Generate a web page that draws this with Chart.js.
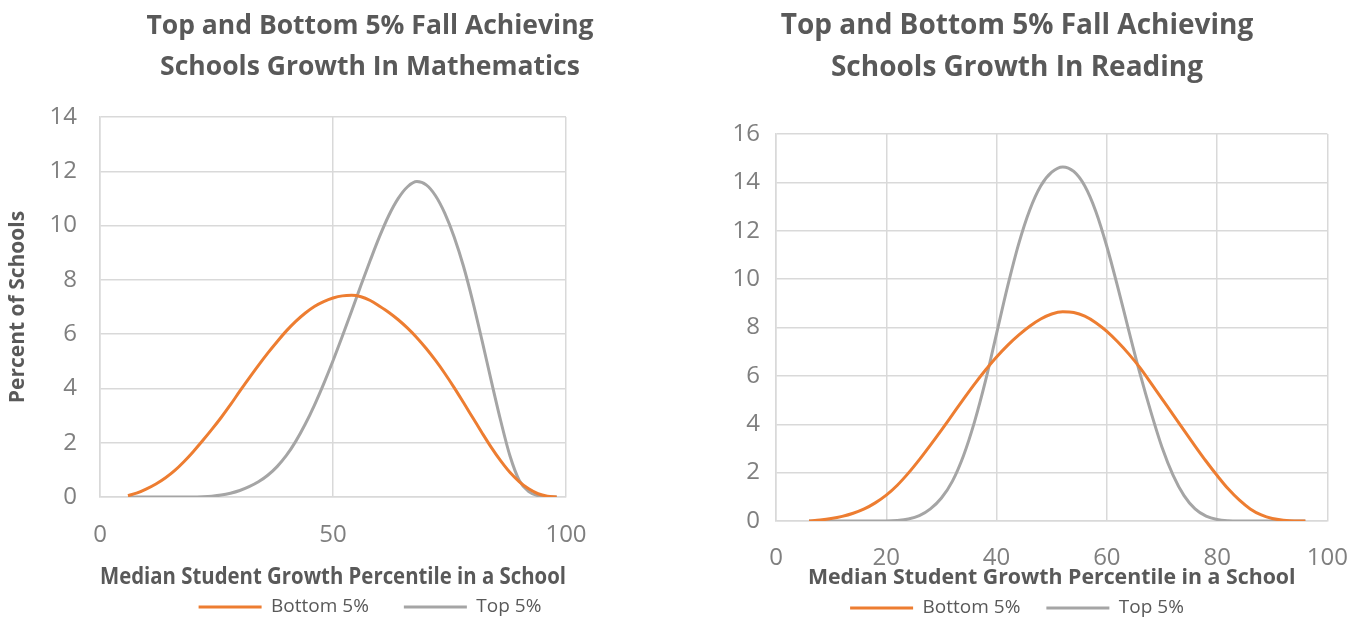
<!DOCTYPE html>
<html>
<head>
<meta charset="utf-8">
<script src="https://cdn.jsdelivr.net/npm/chart.js@4/dist/chart.umd.min.js"></script>
<style>
  html, body { margin: 0; padding: 0; background: #ffffff; width: 1366px; height: 623px; overflow: hidden; }
  #wrapL { position: absolute; left: 0; top: 0; width: 740px; height: 623px; }
  #wrapR { position: absolute; left: 683px; top: 0; width: 688px; height: 623px; }
</style>
</head>
<body>
<div id="wrapL"><canvas id="cL" width="740" height="623"></canvas></div>
<div id="wrapR"><canvas id="cR" width="688" height="623"></canvas></div>
<script>
// ---------- Data ----------
const seriesNames = ['Bottom 5%', 'Top 5%'];
const mathTitle = ['Top and Bottom 5% Fall Achieving', 'Schools Growth In Mathematics'];
const readTitle = ['Top and Bottom 5% Fall Achieving', 'Schools Growth In Reading'];
const xAxisTitle = 'Median Student Growth Percentile in a School';
const yAxisTitle = 'Percent of Schools';

// Mathematics (left chart)
const mathX = [6,8,10,12,14,16,18,20,22,24,26,28,30,32,34,36,38,40,42,44,46,48,50,52,54,56,58,60,62,64,66,68,70,72,74,76,78,80,82,84,86,88,90,92,94,96,98];
const mathBottom = [0.05,0.15,0.3,0.48,0.7,0.97,1.3,1.67,2.07,2.49,2.93,3.4,3.9,4.38,4.85,5.3,5.72,6.12,6.47,6.77,7.02,7.2,7.33,7.41,7.43,7.38,7.24,7.03,6.8,6.53,6.22,5.87,5.47,5.03,4.55,4.03,3.48,2.92,2.36,1.82,1.33,0.9,0.56,0.3,0.12,0.03,0.0];
const mathTop = [0,0,0,0,0,0,0,0,0.01,0.03,0.07,0.14,0.24,0.38,0.56,0.8,1.12,1.53,2.05,2.67,3.38,4.17,5.02,5.92,6.85,7.8,8.72,9.6,10.38,11.0,11.43,11.62,11.5,11.1,10.45,9.58,8.5,7.2,5.75,4.25,2.8,1.5,0.6,0.2,0.05,0.01,0.0];

// Reading (right chart)
const readX = [6,8,10,12,14,16,18,20,22,24,26,28,30,32,34,36,38,40,42,44,46,48,50,52,54,56,58,60,62,64,66,68,70,72,74,76,78,80,82,84,86,88,90,92,94,96];
const readBottom = [0.0,0.04,0.1,0.19,0.32,0.5,0.75,1.07,1.48,1.98,2.54,3.14,3.76,4.4,5.04,5.66,6.24,6.78,7.26,7.68,8.05,8.35,8.56,8.65,8.62,8.47,8.2,7.84,7.4,6.9,6.34,5.7,5.05,4.4,3.75,3.1,2.47,1.88,1.33,0.87,0.5,0.25,0.1,0.03,0.0,0.0];
const readTop = [0,0,0,0,0,0,0,0,0.02,0.08,0.22,0.5,0.95,1.65,2.7,4.1,5.8,7.75,9.7,11.45,12.85,13.85,14.42,14.64,14.45,13.85,12.8,11.35,9.65,7.85,6.1,4.5,3.05,1.9,1.05,0.5,0.2,0.06,0.01,0,0,0,0,0,0,0];

// Axis ranges / ticks
const mathXTicks = { min: 0, max: 100, step: 50 };
const mathYTicks = { min: 0, max: 14, step: 2 };
const readXTicks = { min: 0, max: 100, step: 20 };
const readYTicks = { min: 0, max: 16, step: 2 };

// ---------- Styles ----------
const COL_BOTTOM = '#ED7D31';
const COL_TOP = '#A5A5A5';
const TEXT_DARK = '#595959';
const TEXT_TICK = '#7f7f7f';
const GRID = '#d9d9d9';
Chart.defaults.font.family = "'Open Sans', sans-serif";

function pts(xs, ys) { return xs.map((x, i) => ({ x: x, y: ys[i] })); }

function makeDatasets(xs, bottom, top) {
  return [
    { label: seriesNames[0], data: pts(xs, bottom), borderColor: COL_BOTTOM, backgroundColor: COL_BOTTOM,
      borderWidth: 3, pointRadius: 0, cubicInterpolationMode: 'monotone', fill: false },
    { label: seriesNames[1], data: pts(xs, top), borderColor: COL_TOP, backgroundColor: COL_TOP,
      borderWidth: 3, pointRadius: 0, cubicInterpolationMode: 'monotone', fill: false }
  ];
}

function legendLabels(chart) {
  return Chart.defaults.plugins.legend.labels.generateLabels(chart).map(l => Object.assign(l, { lineWidth: 0 }));
}

function buildChart(canvas, cfg) {
  return new Chart(canvas, {
    type: 'line',
    data: { datasets: makeDatasets(cfg.xs, cfg.bottom, cfg.top) },
    options: {
      responsive: false,
      animation: false,
      devicePixelRatio: 1,
      layout: { padding: cfg.layoutPadding },
      plugins: {
        tooltip: { enabled: false },
        title: {
          display: true,
          text: cfg.title,
          color: TEXT_DARK,
          font: { size: cfg.titleSize, weight: 'bold', lineHeight: cfg.titleLH },
          padding: cfg.titlePadding
        },
        legend: {
          position: 'bottom',
          labels: {
            boxWidth: 63, boxHeight: 3,
            color: TEXT_DARK,
            font: { size: 19 },
            padding: cfg.legendPad,
            generateLabels: legendLabels
          }
        }
      },
      scales: {
        x: {
          type: 'linear',
          min: cfg.xt.min, max: cfg.xt.max,
          ticks: { stepSize: cfg.xt.step, color: TEXT_TICK, font: { size: 24 }, padding: cfg.xTickPad, maxRotation: 0 },
          grid: { color: GRID, lineWidth: 1.5, drawTicks: false },
          border: { color: GRID, width: 1.5 },
          title: {
            display: true, text: xAxisTitle, color: TEXT_DARK,
            font: { size: cfg.xTitleSize, weight: 'bold', lineHeight: 1.2 },
            padding: { top: 0, bottom: cfg.xTitlePadB }
          },
          afterFit: (s) => { s.height = cfg.xHeight; }
        },
        y: {
          type: 'linear',
          min: cfg.yt.min, max: cfg.yt.max,
          ticks: { stepSize: cfg.yt.step, color: TEXT_TICK, font: { size: 24 }, padding: cfg.yTickPad },
          grid: { color: GRID, lineWidth: 1.5, drawTicks: false },
          border: { color: GRID, width: 1.5 },
          title: cfg.yTitle ? {
            display: true, text: yAxisTitle, color: TEXT_DARK,
            font: { size: 21, weight: 'bold', lineHeight: 1.2 },
            padding: { top: 5.4, bottom: 0 }
          } : { display: false },
          afterFit: (s) => { s.width = cfg.yWidth; }
        },
        ySpacer: {
          type: 'linear', position: 'right', display: true,
          ticks: { display: false }, grid: { display: false }, border: { display: false },
          afterFit: (s) => { s.width = cfg.rightSpace; }
        }
      }
    }
  });
}

buildChart(document.getElementById('cL'), {
  xs: mathX, bottom: mathBottom, top: mathTop,
  title: mathTitle, titleSize: 26.5, titleLH: 41 / 26.5, titlePadding: { top: 5.5, bottom: 29.5 },
  layoutPadding: { left: 0, right: 0, top: 0, bottom: -3.5 },
  legendPad: 35,
  xt: mathXTicks, yt: mathYTicks,
  xTickPad: 24, xTitleSize: 22.5, xTitlePadB: -29, xHeight: 65.5,
  yTickPad: 23, yWidth: 100, yTitle: true,
  rightSpace: 174
});

buildChart(document.getElementById('cR'), {
  xs: readX, bottom: readBottom, top: readTop,
  title: readTitle, titleSize: 28, titleLH: 42 / 28, titlePadding: { top: 5, bottom: 45 },
  layoutPadding: { left: 0, right: 20, top: 0, bottom: -4.5 },
  legendPad: 26,
  xt: readXTicks, yt: readYTicks,
  xTickPad: 23, xTitleSize: 21.3, xTitlePadB: -18.3, xHeight: 51.5,
  yTickPad: 16, yWidth: 93, yTitle: false,
  rightSpace: 20
});
</script>
</body>
</html>
